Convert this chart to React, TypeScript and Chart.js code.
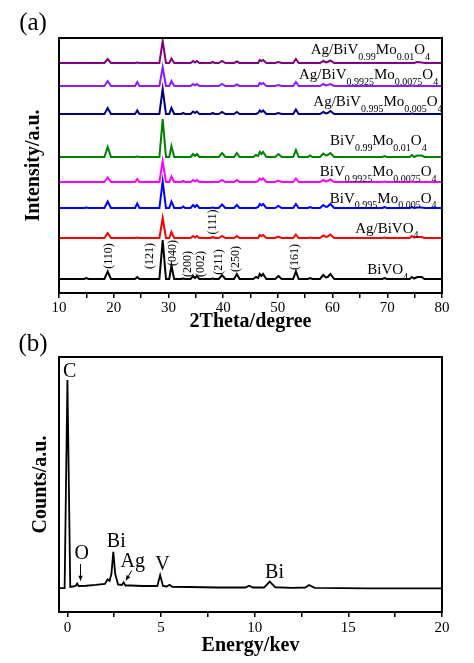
import React, { useEffect, useRef } from 'react';
import { Chart, registerables } from 'chart.js';

Chart.register(...registerables);

const FONT = "'Liberation Serif', 'Times New Roman', serif";

// ---------------- Panel (a): XRD ----------------
const TWO_THETA = [
  10, 14.6, 15.0, 15.4, 18.3, 18.9, 19.5, 23.9, 24.3, 24.7,
  28.35, 28.95, 29.55, 30.15, 30.55, 31.05, 32.35, 32.7, 33.05, 34.05,
  34.5, 34.85, 35.2, 35.65, 37.75, 38.1, 38.45, 39.2, 39.8, 40.4,
  42.0, 42.5, 43.0, 45.5, 46.0, 46.4, 46.7, 47.0, 47.3, 47.9,
  49.5, 50.1, 50.7, 52.8, 53.3, 53.8, 55.5, 55.9, 56.3, 57.7,
  58.3, 58.8, 59.1, 59.6, 60.3, 69.1, 69.5, 69.9, 74.1, 74.5,
  74.9, 75.5, 76.3, 76.8, 80,
];

const I_BIVO4 = [
  0, 0, 1, 0, 0, 7.5, 0, 0, 2, 0,
  0, 39, 0, 0, 13.5, 0, 0, 0.5, 0, 0,
  3, 1, 3, 0, 0, 0.5, 0, 0, 4, 0,
  0, 5, 0, 0, 2, 1, 5, 3, 5, 0,
  0, 3, 0, 0, 7.5, 0, 0, 1, 0, 0,
  4, 1.5, 2, 5, 0, 0, 1, 0, 0, 2,
  0.5, 2, 2, 0, 0,
];
const I_AG_BIVO4 = [
  0, 0, 0, 0, 0, 5, 0, 0, 0.5, 0,
  0, 20, 0, 0, 6, 0, 0, 0, 0, 0,
  2, 0.5, 2, 0, 0, 1, 0, 0, 2, 0,
  0, 2, 0, 0, 0, 0, 3, 2, 3, 0,
  0, 1.5, 0, 0, 3.5, 0, 0, 0.5, 0, 0,
  2.5, 1, 1.5, 3.5, 0, 0, 0.5, 0, 0, 2,
  0.5, 1, 1, 0, 0,
];
const I_BIV995 = [
  0, 0, 0.5, 0, 0, 6.5, 0, 0, 4.5, 0,
  0, 26.5, 0, 0, 6.5, 0, 0, 1.5, 0, 0,
  3, 1, 3, 0, 0, 0.5, 0, 0, 3.5, 0,
  0, 3, 0, 0, 0, 1, 4, 2.5, 4, 0,
  0, 2, 0, 0, 4, 0, 0, 1, 0, 0,
  3, 1, 1.5, 4, 0, 0, 1, 0, 0, 1,
  0, 0.5, 0.5, 0, 0,
];
const I_BIV9925 = [
  0, 0, 0, 0, 0, 4.5, 0, 0, 3, 0,
  0, 21, 0, 0, 5.5, 0, 0, 1, 0, 0,
  2, 0.5, 2, 0, 0, 0, 0, 0, 2, 0,
  0, 2, 0, 0, 0, 1, 3.5, 2, 3.5, 0,
  0, 1.5, 0, 0, 3.5, 0, 0, 0, 0, 0,
  2, 0.5, 1, 2.5, 0, 0, 0.5, 0, 0, 0.5,
  0, 0, 0, 0, 0,
];
const I_BIV99 = [
  0, 0, 0, 0, 0, 10, 0, 0, 0.5, 0,
  0, 38, 0, 0, 11, 0, 0, 0, 0, 0,
  3, 1, 3, 0, 0, 0, 0, 0, 4, 0,
  0, 4, 0, 0, 2, 1, 5, 3, 5, 0,
  0, 3, 0, 0, 7, 0, 0, 1.5, 0, 0,
  3.5, 1.5, 2, 4, 0, 0, 1, 0, 0, 2,
  0, 1.5, 1.5, 0, 0,
];
const I_AG_BIV995 = [
  0, 0, 0, 0, 0, 6, 0, 0, 3.5, 0,
  0, 25, 0, 0, 6, 0, 0, 1, 0, 0,
  2.5, 1, 2.5, 0, 0, 1, 0, 0, 2, 0,
  0, 2, 0, 0, 0, 1, 3.5, 2, 3.5, 0,
  0, 1, 0, 0, 4.5, 0, 0, 0, 0, 0,
  2, 0.5, 1, 3, 0, 0, 0, 0, 0, 0.5,
  0, 0, 0, 0, 0,
];
const I_AG_BIV9925 = [
  0, 0, 0, 0, 0, 5, 0, 0, 4, 0,
  0, 19, 0, 0, 5, 0, 0, 0, 0, 0,
  2, 0.5, 2, 0, 0, 0, 0, 0, 2, 0,
  0, 1.5, 0, 0, 0, 0, 3, 2, 3, 0,
  0, 1, 0, 0, 4, 0, 0, 0, 0, 0,
  2, 0.5, 1, 2, 0, 0, 0, 0, 0, 0.5,
  0, 0, 0, 0, 0,
];
const I_AG_BIV99 = [
  0, 0, 0, 0, 0, 4, 0, 0, 0.5, 0,
  0, 22, 0, 0, 4.5, 0, 0, 0, 0, 0,
  2, 0.5, 2, 0, 0, 1, 0, 0, 2, 0,
  0, 1.5, 0, 0, 0, 0, 3, 2, 3, 0,
  0, 1, 0, 0, 4, 0, 0, 0, 0, 0,
  2, 0.5, 1, 2.5, 0, 0, 0, 0, 0, 0,
  0, 1, 0.5, 0, 0,
];

const XRD_SERIES = [I_BIVO4, I_AG_BIVO4, I_BIV995, I_BIV9925, I_BIV99, I_AG_BIV995, I_AG_BIV9925, I_AG_BIV99];
const XRD_OFFSETS = [14, 55, 85, 111, 136, 179, 207, 230];
const XRD_NAMES = [
  'BiVO4', 'Ag/BiVO4', 'BiV0.995Mo0.005O4', 'BiV0.9925Mo0.0075O4',
  'BiV0.99Mo0.01O4', 'Ag/BiV0.995Mo0.005O4', 'Ag/BiV0.9925Mo0.0075O4', 'Ag/BiV0.99Mo0.01O4',
];
// label text split into [text, isSubscript]
const XRD_LABEL_PARTS: [string, boolean][][] = [
  [['BiVO', false], ['4', true]],
  [['Ag/BiVO', false], ['4', true]],
  [['BiV', false], ['0.995', true], ['Mo', false], ['0.005', true], ['O', false], ['4', true]],
  [['BiV', false], ['0.9925', true], ['Mo', false], ['0.0075', true], ['O', false], ['4', true]],
  [['BiV', false], ['0.99', true], ['Mo', false], ['0.01', true], ['O', false], ['4', true]],
  [['Ag/BiV', false], ['0.995', true], ['Mo', false], ['0.005', true], ['O', false], ['4', true]],
  [['Ag/BiV', false], ['0.9925', true], ['Mo', false], ['0.0075', true], ['O', false], ['4', true]],
  [['Ag/BiV', false], ['0.99', true], ['Mo', false], ['0.01', true], ['O', false], ['4', true]],
];
const XRD_LABEL_ANCHORS = [
  [73.8, 18.7], [75.7, 60.3], [79.0, 90.3], [79.0, 117], [77.2, 148], [80.1, 187], [79.3, 213.7], [77.8, 238.7],
];
const XRD_COLORS = ['#000000', '#ff0000', '#0000ff', '#ff00ff', '#008000', '#000080', '#8c1aff', '#800080'];

const MILLER_TEXT = ['(110)', '(121)', '(040)', '(200)', '(002)', '(211)', '(250)', '(161)', '(111)'];
const MILLER_ANCHORS = [
  [19.05, 37], [26.6, 37], [30.85, 40], [33.6, 29], [36.0, 29], [39.2, 31], [42.4, 34], [53.1, 36], [38.1, 71],
];
const XRD_TICKS = [10, 15, 20, 25, 30, 35, 40, 45, 50, 55, 60, 65, 70, 75, 80];
const XRD_TICK_LABELS = [10, 20, 30, 40, 50, 60, 70, 80];

// ---------------- Panel (b): EDS ----------------
const EDS_ENERGY = [
  -0.45, -0.15, 0.0, 0.15, 0.3, 0.45, 0.52, 0.6, 1.0, 1.5,
  2.0, 2.15, 2.25, 2.35, 2.45, 2.55, 2.7, 2.9, 3.0, 3.1,
  3.4, 4.0, 4.8, 4.95, 5.1, 5.3, 5.45, 5.6, 6.5, 8.0,
  9.5, 9.7, 9.9, 10.5, 10.8, 11.1, 12.0, 12.7, 12.9, 13.2,
  16, 20,
];
const EDS_COUNTS = [
  9.4, 9.4, 91, 9.8, 10.0, 10.3, 11.2, 10.2, 10.3, 10.6,
  11.0, 12.8, 12.2, 15.0, 23.6, 15.0, 10.8, 10.6, 11.6, 10.4,
  10.4, 10.2, 10.2, 14.5, 10.2, 10.0, 10.7, 9.9, 9.8, 9.6,
  9.6, 10.3, 9.6, 9.6, 11.9, 9.7, 9.5, 9.6, 10.6, 9.5,
  9.3, 9.3,
];
const EDS_ELEMENTS = ['C', 'O', 'Bi', 'Ag', 'V', 'Bi'];
const EDS_ELEMENT_ANCHORS = [
  [0.12, 94.3], [0.76, 22.7], [2.61, 27.6], [3.49, 19.6], [5.07, 18.4], [11.06, 15.3],
];
const EDS_ARROWS = [
  [0.7, 18.8, 0.7, 12.3],
  [3.44, 16.3, 3.12, 12.4],
];
const EDS_TICKS = [0, 2.5, 5, 7.5, 10, 12.5, 15, 17.5, 20];
const EDS_TICK_LABELS = [0, 5, 10, 15, 20];

const frame = (chart: any) => {
  const { ctx, chartArea: a } = chart;
  ctx.save();
  ctx.strokeStyle = '#000';
  ctx.lineWidth = 2;
  ctx.strokeRect(a.left, a.top, a.right - a.left, a.bottom - a.top);
  ctx.restore();
};

const xrdPlugin = {
  id: 'xrdAnnotations',
  afterDatasetsDraw(chart: any) {
    const { ctx, scales } = chart;
    const x = scales.x;
    const y = scales.y;
    frame(chart);
    ctx.save();
    ctx.fillStyle = '#000';
    ctx.textAlign = 'left';
    ctx.textBaseline = 'alphabetic';
    XRD_LABEL_PARTS.forEach((parts, i) => {
      let total = 0;
      parts.forEach(([t, sub]) => {
        ctx.font = `${sub ? 10 : 15}px ${FONT}`;
        total += ctx.measureText(t).width;
      });
      let px = x.getPixelForValue(XRD_LABEL_ANCHORS[i][0]) - total;
      const py = y.getPixelForValue(XRD_LABEL_ANCHORS[i][1]);
      parts.forEach(([t, sub]) => {
        ctx.font = `${sub ? 10 : 15}px ${FONT}`;
        ctx.fillText(t, px, sub ? py + 5.5 : py);
        px += ctx.measureText(t).width;
      });
    });
    ctx.font = `12px ${FONT}`;
    ctx.textAlign = 'center';
    ctx.textBaseline = 'middle';
    MILLER_TEXT.forEach((t, i) => {
      const px = x.getPixelForValue(MILLER_ANCHORS[i][0]);
      const py = y.getPixelForValue(MILLER_ANCHORS[i][1]);
      ctx.save();
      ctx.translate(px, py);
      ctx.rotate(-Math.PI / 2);
      ctx.fillText(t, 0, 0);
      ctx.restore();
    });
    ctx.font = `25px ${FONT}`;
    ctx.fillText('(a)', 33, 23);
    ctx.restore();
  },
};

const edsPlugin = {
  id: 'edsAnnotations',
  afterDatasetsDraw(chart: any) {
    const { ctx, scales } = chart;
    const x = scales.x;
    const y = scales.y;
    frame(chart);
    ctx.save();
    ctx.fillStyle = '#000';
    ctx.strokeStyle = '#000';
    ctx.font = `20px ${FONT}`;
    ctx.textAlign = 'center';
    ctx.textBaseline = 'middle';
    EDS_ELEMENTS.forEach((t, i) => {
      ctx.fillText(t, x.getPixelForValue(EDS_ELEMENT_ANCHORS[i][0]), y.getPixelForValue(EDS_ELEMENT_ANCHORS[i][1]));
    });
    ctx.lineWidth = 1;
    EDS_ARROWS.forEach(([x0, y0, x1, y1]) => {
      const ax = x.getPixelForValue(x0);
      const ay = y.getPixelForValue(y0);
      const bx = x.getPixelForValue(x1);
      const by = y.getPixelForValue(y1);
      ctx.beginPath();
      ctx.moveTo(ax, ay);
      ctx.lineTo(bx, by);
      ctx.stroke();
      const ang = Math.atan2(by - ay, bx - ax);
      const L = 5;
      const W = 2.2;
      ctx.beginPath();
      ctx.moveTo(bx, by);
      ctx.lineTo(bx - L * Math.cos(ang) + W * Math.sin(ang), by - L * Math.sin(ang) - W * Math.cos(ang));
      ctx.lineTo(bx - L * Math.cos(ang) - W * Math.sin(ang), by - L * Math.sin(ang) + W * Math.cos(ang));
      ctx.closePath();
      ctx.fill();
    });
    ctx.font = `25px ${FONT}`;
    ctx.fillText('(b)', 33, 18);
    ctx.restore();
  },
};

const tickFont = { family: FONT, size: 15 };
const titleFont = { family: FONT, size: 20, weight: 'bold' as const };

export default function App() {
  const refA = useRef<HTMLCanvasElement>(null);
  const refB = useRef<HTMLCanvasElement>(null);

  useEffect(() => {
    Chart.defaults.color = '#000';
    const chartA = new Chart(refA.current as HTMLCanvasElement, {
      type: 'line',
      data: {
        datasets: XRD_SERIES.map((vals, i) => ({
          label: XRD_NAMES[i],
          data: TWO_THETA.map((t, k) => ({ x: t, y: XRD_OFFSETS[i] + vals[k] })),
          borderColor: XRD_COLORS[i],
          backgroundColor: XRD_COLORS[i],
          borderWidth: 2,
          pointRadius: 0,
          tension: 0,
          fill: false,
        })),
      },
      options: {
        animation: false,
        responsive: false,
        events: [],
        layout: { padding: { top: 38, right: 32, bottom: 0, left: 0 } },
        plugins: { legend: { display: false }, tooltip: { enabled: false } },
        scales: {
          x: {
            type: 'linear',
            min: 10,
            max: 80,
            afterBuildTicks: (s: any) => { s.ticks = XRD_TICKS.map((v) => ({ value: v })); },
            afterFit: (s: any) => { s.height = 49; },
            ticks: {
              autoSkip: false,
              maxRotation: 0,
              padding: 1,
              font: tickFont,
              color: '#000',
              callback: (v: any) => (XRD_TICK_LABELS.includes(Number(v)) ? String(v) : ''),
            },
            grid: { drawOnChartArea: false, drawTicks: true, tickLength: 5, color: '#000', lineWidth: 1.5 },
            border: { display: false },
            title: { display: true, text: '2Theta/degree', font: titleFont, color: '#000', padding: { top: 0, bottom: 8.5 } },
          },
          y: {
            type: 'linear',
            min: 0,
            max: 255,
            afterFit: (s: any) => { s.width = 59; },
            ticks: { display: false },
            grid: { display: false },
            border: { display: false },
            title: { display: true, text: 'Intensity/a.u.', font: titleFont, color: '#000', padding: { top: 21.5, bottom: 0 } },
          },
        },
      },
      plugins: [xrdPlugin],
    } as any);

    const chartB = new Chart(refB.current as HTMLCanvasElement, {
      type: 'line',
      data: {
        datasets: [
          {
            label: 'EDS',
            data: EDS_ENERGY.map((e, k) => ({ x: e, y: EDS_COUNTS[k] })),
            borderColor: '#000',
            borderWidth: 1.8,
            pointRadius: 0,
            tension: 0,
            fill: false,
          },
        ],
      },
      options: {
        animation: false,
        responsive: false,
        events: [],
        layout: { padding: { top: 31, right: 32, bottom: 0, left: 0 } },
        plugins: { legend: { display: false }, tooltip: { enabled: false } },
        scales: {
          x: {
            type: 'linear',
            min: -0.45,
            max: 20,
            afterBuildTicks: (s: any) => { s.ticks = EDS_TICKS.map((v) => ({ value: v })); },
            afterFit: (s: any) => { s.height = 51; },
            ticks: {
              autoSkip: false,
              maxRotation: 0,
              padding: 2,
              font: tickFont,
              color: '#000',
              callback: (v: any) => (EDS_TICK_LABELS.includes(Number(v)) ? String(v) : ''),
            },
            grid: { drawOnChartArea: false, drawTicks: true, tickLength: 5, color: '#000', lineWidth: 1.5 },
            border: { display: false },
            title: { display: true, text: 'Energy/kev', font: titleFont, color: '#000', padding: { top: 0, bottom: 5 } },
          },
          y: {
            type: 'linear',
            min: 0,
            max: 100,
            afterFit: (s: any) => { s.width = 59; },
            ticks: { display: false },
            grid: { display: false },
            border: { display: false },
            title: { display: true, text: 'Counts/a.u.', font: titleFont, color: '#000', padding: { top: 28.5, bottom: 0 } },
          },
        },
      },
      plugins: [edsPlugin],
    } as any);

    return () => {
      chartA.destroy();
      chartB.destroy();
    };
  }, []);

  return (
    <div style={{ position: 'absolute', left: 0, top: 0, width: 474, height: 663, background: '#fff', overflow: 'hidden' }}>
      <canvas ref={refA} width={474} height={342} style={{ position: 'absolute', left: 0, top: 0 }} />
      <canvas ref={refB} width={474} height={337} style={{ position: 'absolute', left: 0, top: 326 }} />
    </div>
  );
}
